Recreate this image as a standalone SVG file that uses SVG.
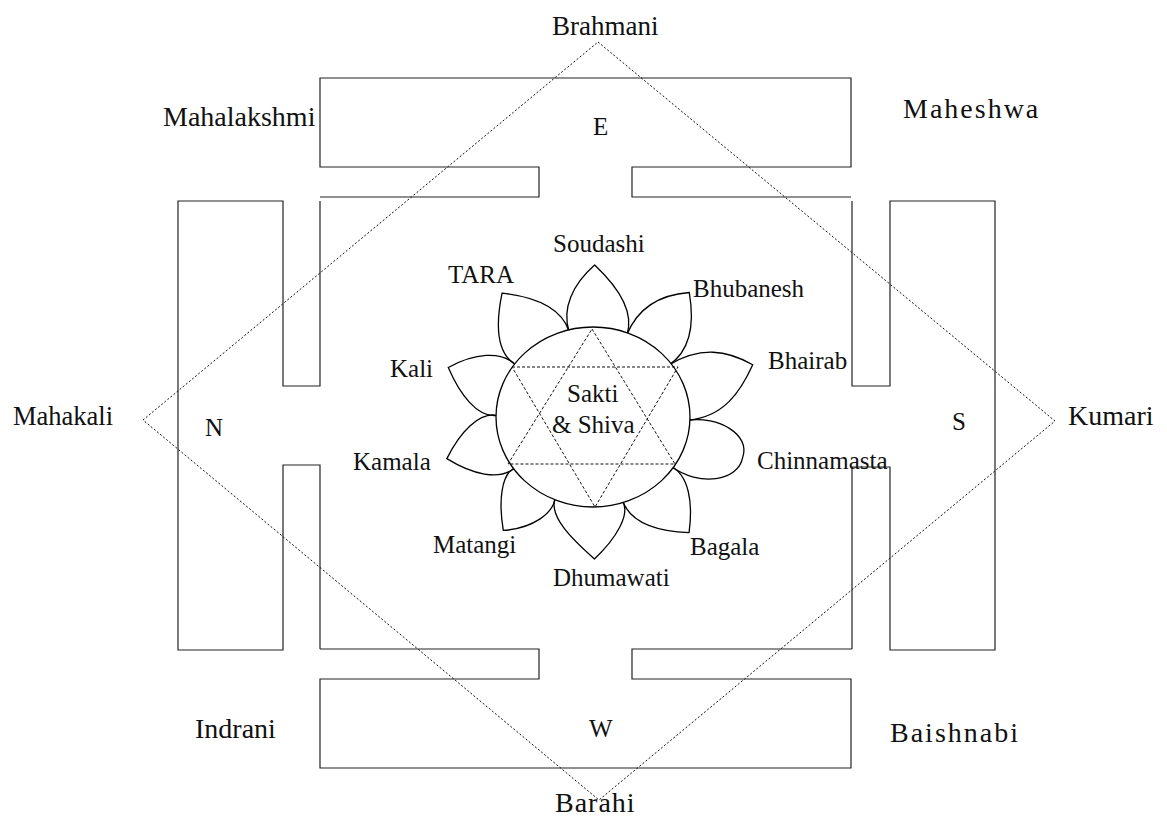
<svg xmlns="http://www.w3.org/2000/svg" width="1167" height="825" viewBox="0 0 1167 825">
<style>
.wall{fill:none;stroke:#222;stroke-width:1.2}
.dot{fill:none;stroke:#111;stroke-width:1;stroke-dasharray:2 2}
.dash{fill:none;stroke:#111;stroke-width:1;stroke-dasharray:3 2}
.petal{fill:none;stroke:#000;stroke-width:1.3}
</style>
<rect width="1167" height="825" fill="#fff"/>
<g id="gate-E"><path class="wall" d="M320,197 H539 V167 H320 V78 H851 V167 H632 V197 H851"/></g>
<g id="gate-N"><path class="wall" d="M320,201 V386 H283 V201 H178 V650 H283 V465 H320 V649"/></g>
<g id="gate-W"><path class="wall" d="M320,649 H539 V679 H320 V768 H851 V679 H632 V649 H852"/></g>
<g id="gate-S"><path class="wall" d="M852,201 V386 H890 V201 H995 V650 H890 V467 H852 V649"/></g>
<g id="connectors"><polygon class="dot" points="598,42 1055,421 599,800 143,420"/></g>
<g id="flower">
<g transform="translate(592 417)">
<path class="petal" transform="rotate(1)" d="M-24.5,-85.5 C-32,-108 -22,-132 0,-152 C22,-132 41,-108 33.6,-83"/>
<path class="petal" transform="rotate(38)" d="M-23.2,-86.5 C-31,-114 -22,-138 0,-158 C22,-138 37,-114 28.7,-88.4"/>
<path class="petal" transform="rotate(72)" d="M-25.7,-89.4 C-34,-125 -22,-149 0,-169 C22,-149 41,-125 32.5,-89.3"/>
<path class="petal" transform="rotate(105)" d="M-21.4,-92.5 C-34,-122 -24,-158 0,-156 C24,-158 40,-122 27.2,-88.9"/>
<path class="petal" transform="rotate(140)" d="M-28.7,-88.4 C-37,-107 -22,-131 0,-151 C22,-131 39,-107 30.4,-83.7"/>
<path class="petal" transform="rotate(179)" d="M-29,-84.2 C-37,-98 -22,-122 0,-142 C22,-122 46,-98 37.9,-79.5"/>
<path class="petal" transform="rotate(218)" d="M-20.5,-85.5 C-29,-100 -22,-124 0,-144 C22,-124 37,-100 29.2,-87.2"/>
<path class="petal" transform="rotate(254)" d="M-27.7,-87.8 C-36,-107 -22,-131 0,-151 C22,-131 36,-107 27.8,-90.8"/>
<path class="petal" transform="rotate(289)" d="M-29.4,-90.4 C-38,-108 -22,-132 0,-152 C22,-132 33,-108 24.7,-89.7"/>
<path class="petal" transform="rotate(324)" d="M-31.2,-87.6 C-40,-109 -22,-133 0,-153 C22,-133 40,-109 31.9,-83.1"/>
</g>
<ellipse cx="593" cy="417" rx="97" ry="90" fill="#fff" stroke="#000" stroke-width="1.3"/>
</g>
<g id="star">
<polygon class="dash" points="592,329 675,464 508,464"/>
<polygon class="dash" points="512,367 678,367 595,507"/>
</g>
<g id="labels" font-family="Liberation Serif, DejaVu Serif, serif" font-size="25" fill="#111">
<g id="label-center"><text x="567" y="402">Sakti</text><text x="552" y="433">&amp; Shiva</text></g>
<g id="label-brahmani"><text x="552" y="35" font-size="27">Brahmani</text></g>
<g id="label-mahalakshmi"><text x="163" y="126" font-size="28">Mahalakshmi</text></g>
<g id="label-E"><text x="593" y="135">E</text></g>
<g id="label-maheshwa"><text x="903" y="118" font-size="28" letter-spacing="2">Maheshwa</text></g>
<g id="label-soudashi"><text x="553" y="252">Soudashi</text></g>
<g id="label-tara"><text x="448" y="283">TARA</text></g>
<g id="label-bhubanesh"><text x="693" y="297">Bhubanesh</text></g>
<g id="label-bhairab"><text x="768" y="369">Bhairab</text></g>
<g id="label-chinnamasta"><text x="757" y="469">Chinnamasta</text></g>
<g id="label-bagala"><text x="690" y="555">Bagala</text></g>
<g id="label-dhumawati"><text x="553" y="586">Dhumawati</text></g>
<g id="label-matangi"><text x="433" y="553">Matangi</text></g>
<g id="label-kamala"><text x="353" y="470">Kamala</text></g>
<g id="label-kali"><text x="390" y="377">Kali</text></g>
<g id="label-N"><text x="205" y="436">N</text></g>
<g id="label-S"><text x="952" y="430">S</text></g>
<g id="label-W"><text x="589" y="737">W</text></g>
<g id="label-mahakali"><text x="13" y="425" font-size="26.5">Mahakali</text></g>
<g id="label-kumari"><text x="1068" y="425" font-size="28">Kumari</text></g>
<g id="label-indrani"><text x="195" y="738" font-size="28">Indrani</text></g>
<g id="label-baishnabi"><text x="890" y="742" font-size="28" letter-spacing="2">Baishnabi</text></g>
<g id="label-barahi"><text x="555" y="812" font-size="28" letter-spacing="1">Barahi</text></g>
</g>
</svg>
